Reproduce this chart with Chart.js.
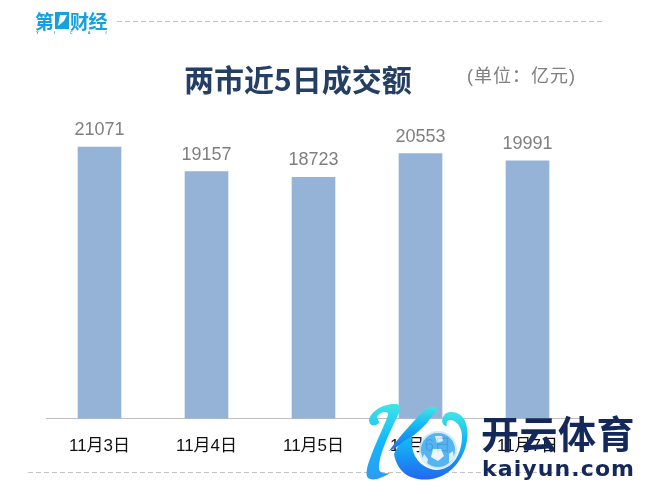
<!DOCTYPE html>
<html>
<head>
<meta charset="utf-8">
<script src="https://cdn.jsdelivr.net/npm/chart.js@4"></script>
<style>
  html, body { margin: 0; padding: 0; background: #fff; }
  #wrap { position: relative; width: 651px; height: 503px; overflow: hidden; font-family: "Liberation Sans", "Noto Sans CJK SC", sans-serif; }
  #chart { position: absolute; left: 0; top: 0; }
  .abs { position: absolute; white-space: nowrap; }
  #title { left: 184px; top: 60px; font: bold 30px "Noto Sans CJK SC", sans-serif; line-height: 36px; color: #243f63; }
  #unit { left: 467px; top: 64px; font: 18px "Liberation Sans", "Noto Sans CJK SC", sans-serif; line-height: 24px; color: #7f7f7f; letter-spacing: 1px; }
  .logo { font: bold 19px "Noto Sans CJK SC", sans-serif; line-height: 24px; color: #16a0e0; letter-spacing: -0.5px; top: 9px; }
  #logoSub { left: 36px; top: 30px; font: bold 4px "Liberation Sans", sans-serif; line-height: 5px; color: #16a0e0; letter-spacing: 15px; }
  #wmTitle { left: 481px; top: 410px; font: bold 38px "Noto Sans CJK SC", sans-serif; line-height: 44px; color: #14285a; letter-spacing: 0.5px; }
  #wmSub { left: 482px; top: 454px; font: bold 22px "DejaVu Sans", sans-serif; line-height: 30px; color: #14285a; letter-spacing: 1.1px; }
  svg { position: absolute; left: 0; top: 0; }
</style>
</head>
<body>
<div id="wrap">
  <canvas id="chart" width="651" height="503"></canvas>
  <svg width="651" height="503">
    <line x1="117" y1="21.5" x2="603" y2="21.5" stroke="#c4c4c4" stroke-dasharray="5 3"/>
    <line x1="28" y1="472.5" x2="603" y2="472.5" stroke="#c4c4c4" stroke-dasharray="5 3"/>
    <rect x="55" y="12" width="14" height="17" fill="#16a0e0"/>
    <path d="M58 26 L60 15 L67 15 L64 21 Z" fill="#fff"/>
  </svg>
  <div class="abs logo" style="left:35px">第</div>
  <div class="abs logo" style="left:70px">财经</div>
  <div class="abs" id="logoSub">YICAI</div>
  <div class="abs" id="title">两市近5日成交额</div>
  <div class="abs" id="unit">(单位：亿元)</div>
  <svg width="651" height="503">
    <defs>
      <linearGradient id="kGrad" x1="0" y1="0" x2="0" y2="1">
        <stop offset="0" stop-color="#3fe6e6"/>
        <stop offset="0.45" stop-color="#12b4f5"/>
        <stop offset="1" stop-color="#2268f0"/>
      </linearGradient>
      <linearGradient id="stemGrad" x1="0" y1="0" x2="0" y2="1">
        <stop offset="0" stop-color="#3fe6e6"/>
        <stop offset="0.5" stop-color="#10b8fb"/>
        <stop offset="1" stop-color="#2f9af5"/>
      </linearGradient>
    </defs>
    <path fill="url(#stemGrad)" d="M369 420 C371 410 385 403 397 404 C400 405 401 408 399 413 C391 430 379 453 379 468 C379 472 382 474 390 473 C381 479 372 481 368 478 C365 475 367 466 371 456 C376 442 384 427 388 415 C389 411 382 411 378 415 C376 418 379 420 379 423 C375 427 369 426 369 420 Z"/>
    <path fill="url(#kGrad)" d="M389 451 C400 436 414 420 425 410 C429 406 436 406 438 409 C433 414 430 419 427 423 C418 433 402 445 389 451 Z"/>
    <path fill="url(#kGrad)" d="M394 454 C398 444 404 440 412 437 C410 455 420 468 436 470 C452 470 462 455 462 436 C462 428 457 420 450 420 C447 420 446 423 447 426 C441 426 441 418 445 414 C451 410 461 412 465 421 C472 437 464 462 447 473 C432 483 411 481 402 471 C398 467 395 460 394 454 Z"/>
    <g opacity="0.92">
      <circle cx="438" cy="450" r="18" fill="#49aef2" stroke="#cbe9fc" stroke-width="2"/>
      <polygon fill="#eaf6fe" points="433,449 441,449 444,456 438,461 431,457"/>
      <polygon fill="#d8eefd" points="424,454 428,459 427,464 422,460"/>
      <polygon fill="#d8eefd" points="449,454 453,451 454,458 449,463"/>
      <polygon fill="#d8eefd" points="435,436 442,436 443,441 437,443"/>
    </g>
  </svg>
  <div class="abs" id="wmTitle">开云体育</div>
  <div class="abs" id="wmSub">kaiyun.com</div>
</div>
<script>
const categories = ['11月3日', '11月4日', '11月5日', '11月6日', '11月7日'];
const turnover = [21071, 19157, 18723, 20553, 19991];

// prints the value above each bar
const valueLabels = {
  id: 'valueLabels',
  afterDatasetsDraw(chart) {
    const ctx = chart.ctx;
    const meta = chart.getDatasetMeta(0);
    ctx.save();
    ctx.font = '18px "Liberation Sans", sans-serif';
    ctx.fillStyle = '#7f7f7f';
    ctx.textAlign = 'center';
    ctx.textBaseline = 'bottom';
    meta.data.forEach((bar, i) => {
      ctx.fillText(turnover[i], bar.x, bar.y - 8);
    });
    ctx.restore();
  },
};

new Chart(document.getElementById('chart').getContext('2d'), {
  type: 'bar',
  data: {
    labels: categories,
    datasets: [
      {
        data: turnover,
        backgroundColor: '#95b3d7',
        barThickness: 43,
      },
    ],
  },
  options: {
    responsive: false,
    animation: false,
    layout: { padding: { left: 46, right: 70, top: 135, bottom: 36 } },
    plugins: { legend: { display: false }, tooltip: { enabled: false } },
    scales: {
      x: {
        grid: { display: false },
        border: { color: '#bfbfbf', width: 1 },
        ticks: {
          color: '#111',
          padding: 10,
          maxRotation: 0,
          font: { size: 17, family: '"Liberation Sans", "Noto Sans CJK SC", sans-serif' },
        },
      },
      y: { display: false, min: 0, max: 22000 },
    },
  },
  plugins: [valueLabels],
});
</script>
</body>
</html>
